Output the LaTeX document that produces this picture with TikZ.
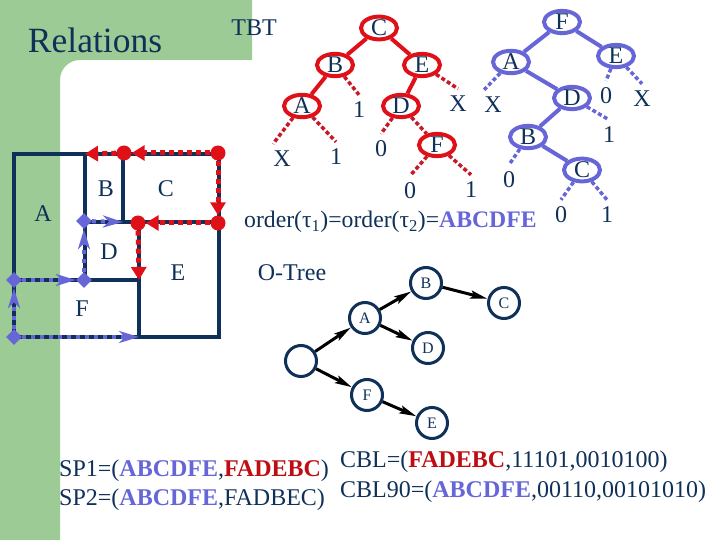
\documentclass[tikz,border=0pt]{standalone}
\usepackage{fontspec}
\setmainfont{Liberation Serif}
\usetikzlibrary{arrows.meta,shapes.geometric}
\definecolor{bggreen}{HTML}{9DCB95}
\definecolor{navy}{HTML}{0F3058}
\definecolor{treered}{HTML}{E01018}
\definecolor{dotred}{HTML}{C81828}
\definecolor{treeblue}{HTML}{6666D8}
\newcommand{\bigfont}{\fontsize{24}{24}\selectfont}
\newcommand{\bluebf}[1]{\textcolor{treeblue}{\bfseries #1}}
\newcommand{\redbf}[1]{\textcolor{treered!85!black}{\bfseries #1}}
\tikzset{
  lbl/.style={text=navy,font=\bigfont,inner sep=0pt},
  leaf/.style={lbl,minimum height=30pt},
  line/.style={text=navy,font=\bigfont,inner sep=0pt,anchor=west},
  room/.style={draw=navy,line width=4pt},
  redtn/.style={lbl,ellipse,draw=treered,line width=4pt,minimum width=36pt,minimum height=21pt},
  bluetn/.style={lbl,ellipse,draw=treeblue,line width=4pt,minimum width=36pt,minimum height=21pt},
  redsolid/.style={draw=treered,line width=4pt},
  bluesolid/.style={draw=treeblue,line width=4pt},
  reddots/.style={draw=dotred,line width=3.5pt,dash pattern=on 4pt off 2.5pt},
  bluedots/.style={draw=treeblue,line width=3.5pt,dash pattern=on 4pt off 2.5pt},
  redpin/.style={circle,fill=treered,inner sep=0pt,minimum size=15pt},
  bluepin/.style={diamond,fill=treeblue,inner sep=0pt,minimum size=16pt},
  redflow/.style={draw=treered,line width=5pt,dash pattern=on 5pt off 4pt,
    -{Triangle[length=13pt,width=15pt,fill=treered]}},
  blueflow/.style={draw=treeblue,line width=4pt,dash pattern=on 4pt off 5pt,
    -{Stealth[length=20pt,width=12pt,inset=6pt,fill=treeblue]}},
  otn/.style={circle,draw=navy,line width=3pt,minimum size=31pt,inner sep=0pt,
    text=navy,font=\fontsize{16}{16}\selectfont},
  oarrow/.style={draw=black,line width=3pt,-{Stealth[length=17pt,width=8pt,inset=3pt]}}
}
\begin{document}
\begin{tikzpicture}[x=1pt,y=-1pt]
  \useasboundingbox (0,0) rectangle (720,540);
  % Background
  \fill[bggreen] (0,0) -- (252,0) -- (252,60) -- (80,60) to [out=180,in=90] (60,80)
    -- (60,540) -- (0,540) -- cycle;

  % Titles
  \node (title) at (95,40) [text=navy,font=\fontsize{35.5}{36}\selectfont,inner sep=0pt] {Relations};
  \node (tbt) at (254,28) [lbl] {TBT};
  \node (otree) at (292,273) [lbl] {O-Tree};
  \node (order) at (244,222) [line,font=\fontsize{23.7}{24}\selectfont] {order(τ\textsubscript{1})=order(τ\textsubscript{2})=\bluebf{ABCDFE}};

  % Floorplan corners
  \coordinate (nw) at (14,154);
  \coordinate (bt) at (85,154);
  \coordinate (ct) at (123,154);
  \coordinate (ne) at (219,154);
  \coordinate (bm) at (85,222);
  \coordinate (cm) at (123,222);
  \coordinate (em) at (139,222);
  \coordinate (er) at (219,222);
  \coordinate (el) at (14,280);
  \coordinate (dl) at (85,280);
  \coordinate (ef) at (139,280);
  \coordinate (sw) at (14,337);
  \coordinate (eb) at (139,337);
  \coordinate (se) at (219,337);

  % Floorplan walls
  \draw[room] (nw) -- (ne) -- (se) -- (sw) -- cycle;
  \draw[room] (bt) -- (dl);
  \draw[room] (ct) -- (cm);
  \draw[room] (bm) -- (er);
  \draw[room] (el) -- (ef);
  \draw[room] (em) -- (eb);

  % Floorplan labels
  \node (roomB) at (106,189) [lbl] {B};
  \node (roomC) at (166,189) [lbl] {C};
  \node (roomA) at (43,214) [lbl] {A};
  \node (roomD) at (109,252) [lbl] {D};
  \node (roomE) at (178,273) [lbl] {E};
  \node (roomF) at (82,309) [lbl] {F};

  % Floorplan red paths
  \node (pinne) at (218,153) [redpin] {};
  \node (pinct) at (124,153) [redpin] {};
  \node (piner) at (218,223) [redpin] {};
  \node (pinem) at (138,223) [redpin] {};
  \draw[redflow] (pinne) -- (pinct);
  \draw[redflow] (pinct) -- (bt);
  \draw[redflow] (pinne) -- (piner);
  \draw[redflow] (piner) -- (pinem);
  \draw[redflow] (pinem) -- (ef);

  % Floorplan blue paths
  \node (pinsw) at (14,337) [bluepin] {};
  \node (pinel) at (14,280) [bluepin] {};
  \node (pindl) at (84,280) [bluepin] {};
  \node (pinbm) at (84,221) [bluepin] {};
  \draw[blueflow] (pinsw) -- (eb);
  \draw[blueflow] (pinsw) -- (pinel);
  \draw[blueflow] (pinel) -- (pindl);
  \draw[blueflow] (pindl) -- (pinbm);
  \draw[blueflow] (pinbm) -- (cm);

  % Red tree
  \node (rC) at (379,28) [redtn] {C};
  \node (rB) at (335,65) [redtn] {B};
  \node (rE) at (422,65) [redtn] {E};
  \node (rA) at (302,106) [redtn] {A};
  \node (rD) at (401,106) [redtn] {D};
  \node (rF) at (437,145) [redtn] {F};
  \node (rX1) at (282,159) [leaf] {X};
  \node (rl1) at (336,157) [leaf] {1};
  \node (rl2) at (359,110) [leaf] {1};
  \node (rl3) at (381,149) [leaf] {0};
  \node (rX2) at (458,104) [leaf] {X};
  \node (rl4) at (410,191) [leaf] {0};
  \node (rl5) at (471,190) [leaf] {1};
  \draw[redsolid] (rC) -- (rB);
  \draw[redsolid] (rC) -- (rE);
  \draw[redsolid] (rB) -- (rA);
  \draw[redsolid] (rE) -- (rD);
  \draw[reddots] (rA) -- (rX1.north west);
  \draw[reddots] (rA) -- (rl1.north);
  \draw[reddots] (rB) -- (rl2.north);
  \draw[reddots] (rD) -- (rl3.north);
  \draw[reddots] (rD) -- (rF);
  \draw[reddots] (rE) -- (rX2.north);
  \draw[reddots] (rF) -- (rl4.north);
  \draw[reddots] (rF) -- (rl5.north);

  % Blue tree
  \node (bF) at (562,22) [bluetn] {F};
  \node (bA) at (511,62) [bluetn] {A};
  \node (bE) at (616,56) [bluetn] {E};
  \node (bD) at (572,98) [bluetn] {D};
  \node (bB) at (528,137) [bluetn] {B};
  \node (bC) at (582,170) [bluetn] {C};
  \node (bX1) at (493,105) [leaf] {X};
  \node (bl1) at (606,96) [leaf] {0};
  \node (bX2) at (642,99) [leaf] {X};
  \node (bl2) at (609,135) [leaf] {1};
  \node (bl3) at (509,180) [leaf] {0};
  \node (bl4) at (561,215) [leaf] {0};
  \node (bl5) at (607,215) [leaf] {1};
  \draw[bluesolid] (bF) -- (bA);
  \draw[bluesolid] (bF) -- (bE);
  \draw[bluesolid] (bA) -- (bD);
  \draw[bluesolid] (bD) -- (bB);
  \draw[bluesolid] (bB) -- (bC);
  \draw[bluedots] (bA) -- (bX1.north west);
  \draw[bluedots] (bE) -- (bl1.north);
  \draw[bluedots] (bE) -- (bX2.north);
  \draw[bluedots] (bD) -- (bl2.north);
  \draw[bluedots] (bB) -- (bl3.north);
  \draw[bluedots] (bC) -- (bl4.north);
  \draw[bluedots] (bC) -- (bl5.north);

  % O-Tree
  \node (oroot) at (301,361) [otn] {};
  \node (oA) at (365,318) [otn] {A};
  \node (oB) at (426,283) [otn] {B};
  \node (oC) at (504,303) [otn] {C};
  \node (oD) at (428,348) [otn] {D};
  \node (oF) at (367,395) [otn] {F};
  \node (oE) at (432,423) [otn] {E};
  \draw[oarrow] (oroot) -- (oA);
  \draw[oarrow] (oA) -- (oB);
  \draw[oarrow] (oB) -- (oC);
  \draw[oarrow] (oA) -- (oD);
  \draw[oarrow] (oroot) -- (oF);
  \draw[oarrow] (oF) -- (oE);

  % Sequence pairs and CBL
  \node (sp1) at (59,471) [line] {SP1=(\bluebf{ABCDFE},\redbf{FADEBC})};
  \node (sp2) at (59,500) [line] {SP2=(\bluebf{ABCDFE},FADBEC)};
  \node (cbl1) at (340,462) [line] {CBL=(\redbf{FADEBC},11101,0010100)};
  \node (cbl2) at (340,492) [line] {CBL90=(\bluebf{ABCDFE},00110,00101010)};
\end{tikzpicture}
\end{document}
